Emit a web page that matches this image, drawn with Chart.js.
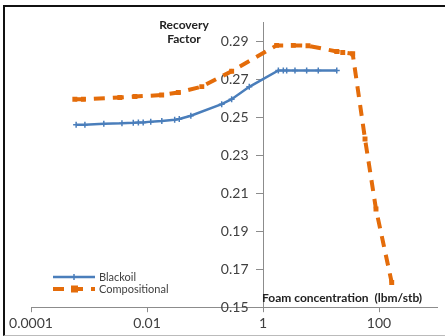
<!DOCTYPE html>
<html>
<head>
<meta charset="utf-8">
<script src="https://cdn.jsdelivr.net/npm/chart.js@4"></script>
<style>
  html, body { margin: 0; padding: 0; background: #fff; }
  #wrap { position: relative; width: 445px; height: 336px; }
  #frame { position: absolute; left: 3px; top: 5px; width: 442px; height: 328px;
           border-top: 2px solid #111; border-left: 2px solid #111; border-bottom: 1px solid #bbb;
           pointer-events: none; }
</style>
</head>
<body>
<div id="wrap">
  <canvas id="chart" width="445" height="336"></canvas>
  <div id="frame"></div>
</div>
<script>
// foam concentration (lbm/stb) vs recovery factor
const blackoilX = [0.0006, 0.00085, 0.0018, 0.0037, 0.0058, 0.0071, 0.0086, 0.0116, 0.018, 0.030, 0.036, 0.057,
                   0.194, 0.288, 0.58, 1.84, 2.24, 2.56, 3.56, 5.66, 8.97, 18.7];
const blackoilY = [0.2460, 0.2460, 0.2465, 0.2467, 0.2470, 0.2472, 0.2472, 0.2476, 0.2479, 0.2486, 0.2490, 0.2507,
                   0.2568, 0.2594, 0.2659, 0.2745, 0.2745, 0.2745, 0.2745, 0.2745, 0.2745, 0.2745];
const compX = [0.00057, 0.0008, 0.0034, 0.0062, 0.0179, 0.0347, 0.088, 0.288, 1.72, 3.33, 5.97, 18.7, 23.7, 35.2,
               57.4, 88.7, 165.6];
const compY = [0.2594, 0.2594, 0.2603, 0.2608, 0.2616, 0.2629, 0.2660, 0.2741, 0.2877, 0.2877, 0.2875, 0.2845, 0.2840, 0.2833,
               0.2385, 0.2016, 0.1630];

const xTicks = [0.0001, 0.01, 1, 100];
const xTickLabels = ['0.0001', '0.01', '1', '100'];
const yTicks = [0.15, 0.17, 0.19, 0.21, 0.23, 0.25, 0.27, 0.29];

const blue = '#4A7EBB';
const orange = '#E46C0A';
const axisGrey = '#8C8C8C';
const textGrey = '#404040';

const toPoints = (xs, ys) => xs.map((v, i) => ({ x: v, y: ys[i] }));
const setTicks = vals => scale => { scale.ticks = vals.map(v => ({ value: v })); };

const overlay = {
  id: 'overlay',
  afterDraw(chart) {
    const ctx = chart.ctx;
    ctx.save();
    ctx.fillStyle = '#222';
    ctx.font = 'bold 12px Lato';
    ctx.textAlign = 'center';
    ctx.textBaseline = 'middle';
    ctx.fillText('Recovery', 184, 25);
    ctx.fillText('Factor', 184, 39);
    ctx.textAlign = 'left';
    ctx.fillText('Foam concentration  (lbm/stb)', 262, 298);

    // legend
    const items = [
      { label: 'Blackoil', ds: chart.data.datasets[0], y: 277 },
      { label: 'Compositional', ds: chart.data.datasets[1], y: 289 }
    ];
    items.forEach(it => {
      ctx.strokeStyle = it.ds.borderColor;
      ctx.lineWidth = it.ds.borderWidth;
      ctx.setLineDash(it.ds.borderDash || []);
      ctx.beginPath();
      ctx.moveTo(53, it.y);
      ctx.lineTo(95, it.y);
      ctx.stroke();
      ctx.setLineDash([]);
      if (it.ds.pointStyle === 'rect') {
        ctx.fillStyle = it.ds.borderColor;
        ctx.fillRect(71, it.y - 3.5, 7, 7);
      } else {
        ctx.lineWidth = 1.5;
        ctx.beginPath();
        ctx.moveTo(74, it.y - 3); ctx.lineTo(74, it.y + 3);
        ctx.stroke();
      }
      ctx.fillStyle = textGrey;
      ctx.font = '11px Lato';
      ctx.textAlign = 'left';
      ctx.fillText(it.label, 99, it.y);
    });
    ctx.restore();
  }
};

new Chart(document.getElementById('chart'), {
  type: 'line',
  data: {
    datasets: [
      {
        label: 'Blackoil',
        data: toPoints(blackoilX, blackoilY),
        borderColor: blue,
        backgroundColor: blue,
        borderWidth: 2.5,
        pointStyle: 'cross',
        pointRadius: 3,
        pointBorderWidth: 1.5,
        tension: 0
      },
      {
        label: 'Compositional',
        data: toPoints(compX, compY),
        borderColor: orange,
        backgroundColor: orange,
        borderWidth: 4,
        borderDash: [11, 8],
        pointStyle: 'rect',
        pointRadius: 3.5,
        pointBorderWidth: 0,
        tension: 0
      }
    ]
  },
  options: {
    responsive: false,
    animation: false,
    layout: { padding: { left: 31, right: 8, top: 22, bottom: 1 } },
    plugins: { legend: { display: false }, tooltip: { enabled: false } },
    scales: {
      x: {
        type: 'logarithmic',
        min: 0.0001,
        max: 1000,
        afterBuildTicks: setTicks(xTicks),
        grid: { drawOnChartArea: false, drawTicks: true, tickLength: 5, color: axisGrey },
        border: { color: axisGrey, width: 1 },
        ticks: {
          autoSkip: false,
          maxRotation: 0,
          padding: 3,
          color: textGrey,
          font: { family: 'Lato', size: 14 },
          callback: (v, i) => xTickLabels[i]
        }
      },
      y: {
        type: 'linear',
        position: { x: 1 },
        min: 0.15,
        max: 0.30,
        afterBuildTicks: setTicks(yTicks),
        grid: { drawOnChartArea: false, drawTicks: true, tickLength: 7, color: axisGrey },
        border: { color: axisGrey, width: 1 },
        ticks: { display: false }
      },
      yLabels: {
        type: 'linear',
        position: { x: Math.pow(10, -14.5 / 58) },
        min: 0.15,
        max: 0.30,
        afterBuildTicks: setTicks(yTicks),
        grid: { display: false },
        border: { display: false },
        ticks: {
          color: textGrey,
          font: { family: 'Lato', size: 14 },
          callback: v => v.toFixed(2)
        }
      }
    }
  },
  plugins: [overlay]
});
</script>
</body>
</html>
